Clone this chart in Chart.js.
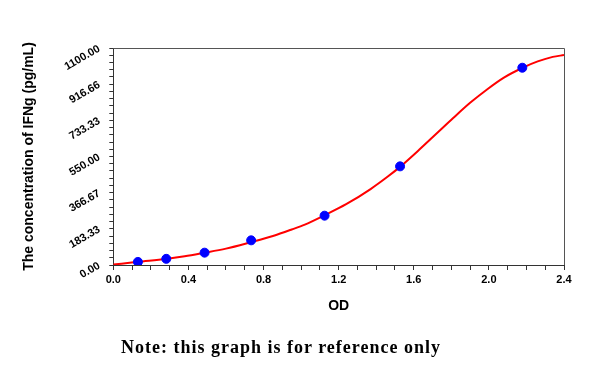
<!DOCTYPE html>
<html>
<head>
<meta charset="utf-8">
<script src="https://cdn.jsdelivr.net/npm/chart.js@4/dist/chart.umd.min.js"></script>
<style>
  html, body { margin: 0; padding: 0; background: #fff; }
  #wrap { position: relative; width: 600px; height: 367px; }
  #note {
    position: absolute; left: 121px; top: 337px;
    font: bold 18px "Liberation Serif", "DejaVu Serif", serif;
    letter-spacing: 1px;
    color: #000; white-space: nowrap;
  }
</style>
</head>
<body>
<div id="wrap">
  <canvas id="stdCurve" width="600" height="367"></canvas>
  <div id="note">Note: this graph is for reference only</div>
</div>
<script>
// Standard points (OD vs concentration)
const odValues = [0.131, 0.282, 0.486, 0.734, 1.125, 1.527, 2.178];
const concValues = [15.63, 31.25, 62.5, 125, 250, 500, 1000];

// Fitted curve
const curveOD = [0, 0.13, 0.28, 0.38, 0.48, 0.60, 0.73, 0.85, 0.95, 1.02, 1.12, 1.24, 1.37, 1.46, 1.53, 1.63, 1.72, 1.81, 1.90, 1.99, 2.08, 2.18, 2.26, 2.34, 2.40];
const curveConc = [2, 16, 31, 44, 61, 83, 115, 147, 180, 205, 250, 308, 385, 447, 500, 585, 665, 745, 822, 890, 950, 1000, 1032, 1055, 1064];

const xTickLabels = ['0.0', '0.4', '0.8', '1.2', '1.6', '2.0', '2.4'];
const yTickLabels = ['0.00', '183.33', '366.67', '550.00', '733.33', '916.66', '1100.00'];

const xMax = 2.4;
const yMax = 1100;

const boxPlugin = {
  id: 'box',
  afterDraw(chart) {
    const { ctx, chartArea } = chart;
    ctx.save();
    ctx.strokeStyle = '#555';
    ctx.lineWidth = 1;
    ctx.beginPath();
    ctx.moveTo(chartArea.left, chartArea.top + 0.5);
    ctx.lineTo(chartArea.right + 0.5, chartArea.top + 0.5);
    ctx.lineTo(chartArea.right + 0.5, chartArea.bottom);
    ctx.stroke();
    ctx.restore();
  },
};

const tickFont = { family: 'Liberation Sans, Arial, sans-serif', size: 11, weight: 'bold' };

new Chart(document.getElementById('stdCurve'), {
  type: 'scatter',
  data: {
    datasets: [
      {
        label: 'Fit',
        data: curveOD.map((x, i) => ({ x, y: curveConc[i] })),
        showLine: true,
        borderColor: '#ff0000',
        borderWidth: 2,
        pointRadius: 0,
        cubicInterpolationMode: 'monotone',
        order: 2,
      },
      {
        label: 'Standards',
        data: odValues.map((x, i) => ({ x, y: concValues[i] })),
        backgroundColor: '#0000ff',
        borderColor: '#0000ff',
        pointRadius: 4.5,
        order: 1,
      },
    ],
  },
  options: {
    responsive: false,
    animation: false,
    layout: { padding: { top: 48, right: 36, bottom: 48, left: 17 } },
    plugins: {
      legend: { display: false },
      tooltip: { enabled: false },
    },
    scales: {
      x: {
        type: 'linear',
        min: 0,
        max: xMax,
        afterBuildTicks: (scale) => {
          scale.ticks = Array.from({ length: 25 }, (_, i) => ({ value: i * 0.1 }));
        },
        ticks: {
          autoSkip: false,
          maxRotation: 0,
          color: '#000',
          font: tickFont,
          padding: 3,
          callback: (value, index) => (index % 4 === 0 ? xTickLabels[index / 4] : ''),
        },
        grid: { drawOnChartArea: false, tickLength: 5, color: '#333' },
        border: { color: '#333' },
        title: {
          display: true,
          text: 'OD',
          color: '#000',
          font: { family: 'Liberation Sans, Arial, sans-serif', size: 14, weight: 'bold' },
          padding: { top: 9 },
        },
      },
      y: {
        type: 'linear',
        min: 0,
        max: yMax,
        afterBuildTicks: (scale) => {
          scale.ticks = Array.from({ length: 31 }, (_, i) => ({ value: (i * yMax) / 30 }));
        },
        ticks: {
          autoSkip: false,
          minRotation: 30,
          maxRotation: 30,
          color: '#000',
          font: tickFont,
          padding: 10,
          callback: (value, index) => (index % 5 === 0 ? yTickLabels[index / 5] : ''),
        },
        grid: { drawOnChartArea: false, tickLength: 4, color: '#333' },
        border: { color: '#333' },
        title: {
          display: true,
          text: 'The concentration of IFNg (pg/mL)',
          color: '#000',
          font: { family: 'Liberation Sans, Arial, sans-serif', size: 14, weight: 'bold' },
          padding: { bottom: 11 },
        },
      },
    },
  },
  plugins: [boxPlugin],
});
</script>
</body>
</html>
